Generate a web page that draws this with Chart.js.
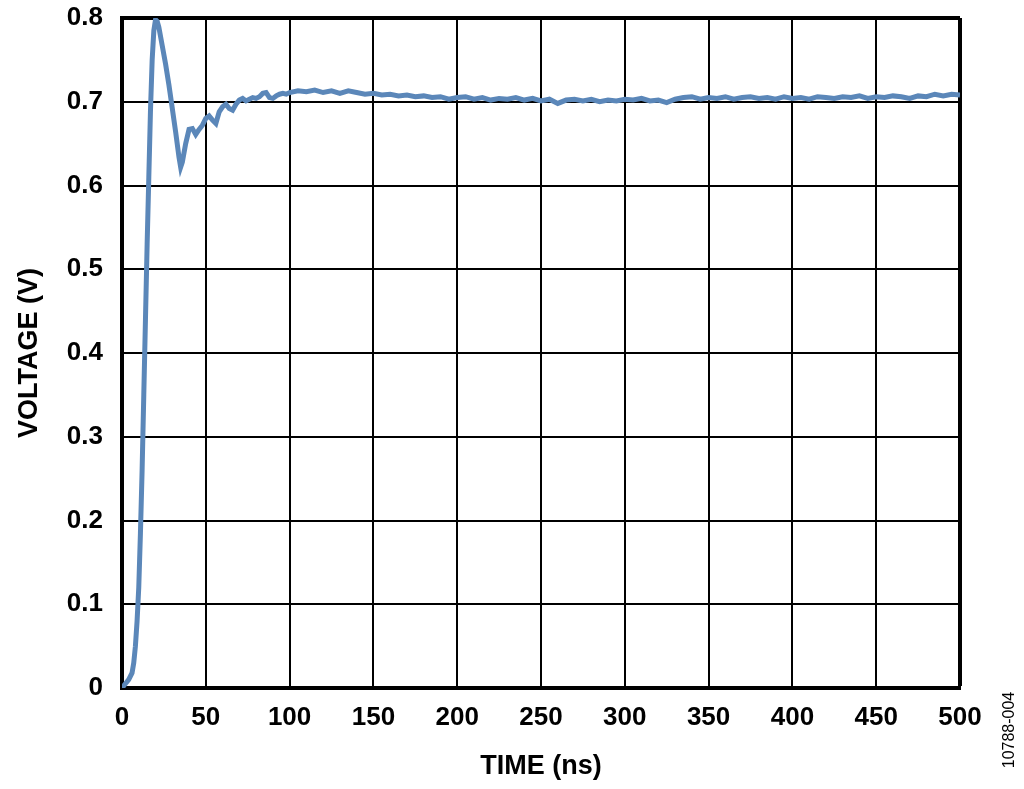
<!DOCTYPE html>
<html>
<head>
<meta charset="utf-8">
<script src="https://cdn.jsdelivr.net/npm/chart.js@4.4.0/dist/chart.umd.min.js"></script>
<style>
  html, body { margin: 0; padding: 0; background: #fff; }
  #wrap { width: 1024px; height: 789px; }
</style>
</head>
<body>
<div id="wrap"><canvas id="stepChart" width="1024" height="789"></canvas></div>
<script>
// time in ns, voltage in V
const timeNs = [
  0, 2, 4, 6, 7, 8, 9, 10, 11, 12, 13, 14, 15, 16, 17, 18, 19, 20, 21, 22,
  24, 26, 28, 30, 32, 34, 35, 36, 38, 40, 42, 44, 46, 48, 50, 52, 54, 56, 58, 60,
  62, 64, 66, 68, 70, 72, 74, 76, 78, 80, 82, 84, 86, 88, 90, 92, 94, 96, 98,
  100, 105, 110, 115, 120, 125, 130, 135, 140, 145, 150, 155, 160, 165, 170, 175,
  180, 185, 190, 195, 200, 205, 210, 215, 220, 225, 230, 235, 240, 245, 250, 255,
  260, 265, 270, 275, 280, 285, 290, 295, 300, 305, 310, 315, 320, 325, 330, 335,
  340, 345, 350, 355, 360, 365, 370, 375, 380, 385, 390, 395, 400, 405, 410, 415,
  420, 425, 430, 435, 440, 445, 450, 455, 460, 465, 470, 475, 480, 485, 490, 495, 500
];
const voltage = [
  0.000, 0.005, 0.010, 0.018, 0.030, 0.050, 0.080, 0.120, 0.185, 0.260, 0.350, 0.440, 0.530, 0.610, 0.690, 0.750, 0.785, 0.798, 0.796, 0.789,
  0.767, 0.745, 0.720, 0.692, 0.664, 0.634, 0.622, 0.628, 0.650, 0.667, 0.668, 0.661, 0.667, 0.672, 0.680, 0.683, 0.678, 0.674, 0.688, 0.694,
  0.697, 0.692, 0.690, 0.697, 0.702, 0.704, 0.701, 0.703, 0.705, 0.704, 0.706, 0.710, 0.711, 0.705, 0.704, 0.707, 0.709, 0.710, 0.709,
  0.711, 0.713, 0.712, 0.714, 0.711, 0.713, 0.710, 0.713, 0.711, 0.709, 0.710, 0.708, 0.709, 0.707, 0.708, 0.706,
  0.707, 0.705, 0.706, 0.703, 0.705, 0.706, 0.703, 0.705, 0.702, 0.704, 0.703, 0.705, 0.702, 0.704, 0.701, 0.703,
  0.698, 0.702, 0.703, 0.701, 0.703, 0.700, 0.702, 0.701, 0.703, 0.702, 0.704, 0.701, 0.702, 0.699, 0.703, 0.705,
  0.706, 0.703, 0.705, 0.704, 0.706, 0.703, 0.705, 0.706, 0.704, 0.705, 0.703, 0.706, 0.704, 0.705, 0.703, 0.706,
  0.705, 0.704, 0.706, 0.705, 0.707, 0.704, 0.706, 0.705, 0.707, 0.706, 0.704, 0.707, 0.706, 0.709, 0.707, 0.709, 0.708
];
const xTitle = "TIME (ns)";
const yTitle = "VOLTAGE (V)";
const figureId = "10788-004";

const fontFamily = 'Arial, "Liberation Sans", Helvetica, sans-serif';

function edgeWidth(value, edge) {
  return Math.abs(value - edge) < 1e-6 ? 4 : 2;
}

const figIdPlugin = {
  id: 'figId',
  afterDraw(chart) {
    const ctx = chart.ctx;
    ctx.save();
    ctx.translate(1010, 730);
    ctx.rotate(-Math.PI / 2);
    ctx.font = '16px ' + fontFamily;
    ctx.fillStyle = '#000';
    ctx.textAlign = 'center';
    ctx.textBaseline = 'middle';
    ctx.fillText(figureId, 0, 0);
    ctx.restore();
  }
};

let ctx = document.getElementById("stepChart").getContext("2d");
let myChart = new Chart(ctx, {
  type: 'line',
  data: {
    datasets: [{
      data: timeNs.map(function(t, i) { return { x: t, y: voltage[i] }; }),
      borderColor: '#5b87b9',
      borderWidth: 5,
      pointRadius: 0,
      tension: 0,
      fill: false
    }]
  },
  options: {
    responsive: false,
    animation: false,
    layout: { padding: { left: 0, right: 64, top: 18, bottom: 0 } },
    plugins: {
      legend: { display: false },
      tooltip: { enabled: false }
    },
    scales: {
      x: {
        type: 'linear',
        min: 0,
        max: 500,
        afterFit: function(scale) { scale.height = 101; },
        ticks: {
          stepSize: 50,
          color: '#000',
          padding: 14,
          maxRotation: 0,
          font: { family: fontFamily, size: 26, weight: 'bold' }
        },
        grid: {
          color: '#000',
          drawTicks: false,
          lineWidth: function(c) { return c.tick ? edgeWidth(c.tick.value, 500) : 2; }
        },
        border: { color: '#000', width: 4 },
        title: {
          display: true,
          text: xTitle,
          color: '#000',
          padding: { top: 0, bottom: 6 },
          font: { family: fontFamily, size: 27, weight: 'bold' }
        }
      },
      y: {
        min: 0,
        max: 0.8,
        afterFit: function(scale) {
          scale.width = 122;
          scale.paddingTop = 0;
          scale.paddingBottom = 0;
        },
        ticks: {
          stepSize: 0.1,
          color: '#000',
          padding: 19,
          font: { family: fontFamily, size: 26, weight: 'bold' },
          callback: function(v) { return v === 0 ? '0' : v.toFixed(1); }
        },
        grid: {
          color: '#000',
          drawTicks: false,
          lineWidth: function(c) { return c.tick ? edgeWidth(c.tick.value, 0.8) : 2; }
        },
        border: { color: '#000', width: 4 },
        title: {
          display: true,
          text: yTitle,
          color: '#000',
          padding: { top: 13, bottom: 0 },
          font: { family: fontFamily, size: 27, weight: 'bold' }
        }
      }
    }
  },
  plugins: [figIdPlugin]
});
</script>
</body>
</html>
